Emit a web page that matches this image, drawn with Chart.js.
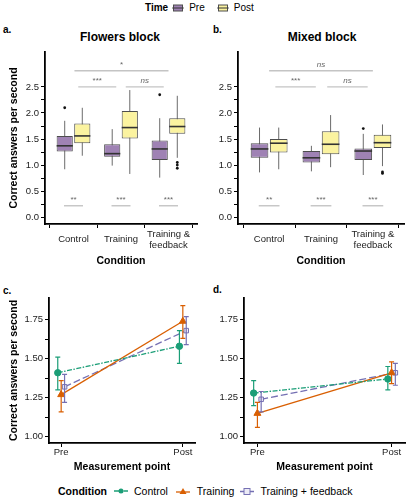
<!DOCTYPE html>
<html>
<head>
<meta charset="utf-8">
<script src="https://cdn.jsdelivr.net/npm/chart.js@4.4.0/dist/chart.umd.min.js"></script>
<style>
body{margin:0;background:#fff;font-family:"Liberation Sans",Arial,sans-serif;}
#wrap{position:relative;width:410px;height:500px;overflow:hidden;}
canvas{position:absolute;}
.t{position:absolute;white-space:nowrap;color:#000;line-height:12px;}
.b{font-weight:bold;}
.lg{position:absolute;display:flex;align-items:center;white-space:nowrap;font-size:10.5px;line-height:12px;}
.lg svg{margin:0 5px 0 4px;}
</style>
</head>
<body>
<div id="wrap">
  <div class="lg" style="left:145px;top:2px;font-size:10px">
    <b>Time</b>
    <svg width="12" height="8"><line x1="0" y1="4" x2="12" y2="4" stroke="#666"/><rect x="1.5" y="1" width="9" height="6" fill="#9f82b4" stroke="#4d4d4d"/><line x1="1.5" y1="4" x2="10.5" y2="4" stroke="#333"/></svg>
    <span>Pre</span>
    <svg width="12" height="8" style="margin-left:12px"><line x1="0" y1="4" x2="12" y2="4" stroke="#666"/><rect x="1.5" y="1" width="9" height="6" fill="#fbf3a0" stroke="#4d4d4d"/><line x1="1.5" y1="4" x2="10.5" y2="4" stroke="#333"/></svg>
    <span>Post</span>
  </div>

  <div class="t b" style="left:3px;top:24px;font-size:10px">a.</div>
  <div class="t b" style="left:213px;top:24px;font-size:10px">b.</div>
  <div class="t b" style="left:120px;top:31px;font-size:12px;transform:translateX(-50%)">Flowers block</div>
  <div class="t b" style="left:322px;top:31px;font-size:12px;transform:translateX(-50%)">Mixed block</div>
  <div class="t b" style="left:3px;top:285px;font-size:10px">c.</div>
  <div class="t b" style="left:213px;top:284px;font-size:10px">d.</div>

  <canvas id="ca" style="left:0;top:44px" width="205" height="232"></canvas>
  <canvas id="cb" style="left:205px;top:44px" width="205" height="232"></canvas>
  <canvas id="cc" style="left:0;top:282px" width="205" height="196"></canvas>
  <canvas id="cd" style="left:205px;top:282px" width="205" height="196"></canvas>

  <div class="lg" style="left:58px;top:485px">
    <b>Condition</b>
    <svg width="14" height="8" style="margin-left:7px;margin-right:6px"><line x1="0" y1="4" x2="14" y2="4" stroke="#1b9e77" stroke-width="1.3" stroke-dasharray="5 1.5 1.5 1.5"/><circle cx="7" cy="4" r="2.5" fill="#1b9e77"/></svg>
    <span>Control</span>
    <svg width="14" height="9" style="margin-left:8px;margin-right:7px"><line x1="0" y1="5" x2="14" y2="5" stroke="#d95f02" stroke-width="1.3"/><polygon points="7,1 10.5,7 3.5,7" fill="#d95f02"/></svg>
    <span>Training</span>
    <svg width="14" height="9" style="margin-left:6px;margin-right:6px"><line x1="0" y1="4.5" x2="14" y2="4.5" stroke="#7570b3" stroke-width="1.3" stroke-dasharray="6 2"/><rect x="4" y="1.5" width="6" height="6" fill="#ecebf6" stroke="#7570b3"/></svg>
    <span>Training + feedback</span>
  </div>
</div>
<script>
// categories
const conditions = [['Control'], ['Training'], ['Training &', 'feedback']];
const measurePoints = ['Pre', 'Post'];

// box stats per condition: [lower whisker, Q1, median, Q3, upper whisker]
const flowersPre  = [[0.92, 1.26, 1.37, 1.56, 1.85], [0.99, 1.16, 1.22, 1.40, 1.69], [0.76, 1.10, 1.31, 1.47, 1.90]];
const flowersPost = [[1.18, 1.42, 1.56, 1.80, 2.10], [0.83, 1.51, 1.72, 2.04, 2.44], [1.14, 1.60, 1.74, 1.90, 2.33]];
const flowersPreOut  = [[2.10], [], [2.35]];
const flowersPostOut = [[], [], [1.05, 1.00, 0.94]];

const mixedPre  = [[0.86, 1.14, 1.31, 1.42, 1.72], [0.88, 1.05, 1.14, 1.27, 1.37], [0.81, 1.10, 1.27, 1.32, 1.60]];
const mixedPost = [[0.92, 1.24, 1.42, 1.50, 1.72], [0.96, 1.21, 1.40, 1.65, 1.96], [0.98, 1.33, 1.43, 1.58, 1.78]];
const mixedPreOut  = [[], [], [1.70]];
const mixedPostOut = [[], [], [0.87, 0.84]];

// significance brackets: [from, to, height, label]
const flowersSig = [[1.02, 3.0, 2.81, '*'], [1.1, 1.9, 2.5, '***'], [2.1, 2.9, 2.5, 'ns'],
  [0.8, 1.2, 0.22, '**'], [1.8, 2.2, 0.22, '***'], [2.8, 3.2, 0.22, '***']];
const mixedSig = [[1.0, 3.0, 2.81, 'ns'], [1.12, 1.9, 2.5, '***'], [2.12, 2.9, 2.5, 'ns'],
  [0.8, 1.2, 0.22, '**'], [1.8, 2.2, 0.22, '***'], [2.8, 3.2, 0.22, '***']];

// means and error bars, Pre / Post
const flowersControl = [1.41, 1.58], flowersControlLo = [1.30, 1.47], flowersControlHi = [1.51, 1.68];
const flowersTraining = [1.27, 1.74], flowersTrainingLo = [1.16, 1.63], flowersTrainingHi = [1.36, 1.84];
const flowersFeedback = [1.32, 1.68], flowersFeedbackLo = [1.22, 1.59], flowersFeedbackHi = [1.40, 1.77];

const mixedControl = [1.28, 1.37], mixedControlLo = [1.20, 1.30], mixedControlHi = [1.36, 1.45];
const mixedTraining = [1.15, 1.41], mixedTrainingLo = [1.06, 1.34], mixedTrainingHi = [1.22, 1.48];
const mixedFeedback = [1.24, 1.41], mixedFeedbackLo = [1.16, 1.33], mixedFeedbackHi = [1.29, 1.47];

const condNames = ['Control', 'Training', 'Training + feedback'];
const condColors = ['#1b9e77', '#d95f02', '#7570b3'];
const condDash = [[5, 1.5, 1.5, 1.5], [], [7, 3]];
const condPoint = ['circle', 'triangle', 'rect'];
const dodge = [-0.028, 0, 0.028];

const preFill = '#9f82b4', postFill = '#fbf3a0';
const FONT = '"Liberation Sans", Arial, sans-serif';
Chart.defaults.font.family = FONT;

function axisBase() {
  return {
    grid: {drawOnChartArea: false, tickLength: 4, color: '#000', tickColor: '#000', tickWidth: 1},
    border: {display: true, color: '#000', width: 1.8}
  };
}

function boxExtras(stats, outs, sig) {
  return {
    id: 'boxExtras',
    beforeDatasetsDraw(chart) {
      const {ctx} = chart, y = chart.scales.y;
      ctx.save();
      ctx.strokeStyle = '#6b6b6b';
      ctx.lineWidth = 1;
      stats.forEach((ser, d) => {
        const meta = chart.getDatasetMeta(d);
        ser.forEach((s, i) => {
          const x = meta.data[i].x;
          ctx.beginPath();
          ctx.moveTo(x, y.getPixelForValue(s[0]));
          ctx.lineTo(x, y.getPixelForValue(s[4]));
          ctx.stroke();
        });
      });
      ctx.restore();
    },
    afterDatasetsDraw(chart) {
      const {ctx} = chart, y = chart.scales.y;
      ctx.save();
      stats.forEach((ser, d) => {
        const meta = chart.getDatasetMeta(d);
        ser.forEach((s, i) => {
          const bar = meta.data[i];
          const w = bar.width / 2;
          const my = y.getPixelForValue(s[2]);
          ctx.strokeStyle = '#333';
          ctx.lineWidth = 1.6;
          ctx.beginPath();
          ctx.moveTo(bar.x - w, my);
          ctx.lineTo(bar.x + w, my);
          ctx.stroke();
          ctx.fillStyle = '#111';
          outs[d][i].forEach(v => {
            ctx.beginPath();
            ctx.arc(bar.x, y.getPixelForValue(v), 1.4, 0, Math.PI * 2);
            ctx.fill();
          });
        });
      });
      ctx.restore();
    },
    afterDraw(chart) {
      const {ctx} = chart, x = chart.scales.x, y = chart.scales.y;
      ctx.save();
      sig.forEach(([a, b, h, lab]) => {
        const py = y.getPixelForValue(h);
        ctx.strokeStyle = '#c4c4c4';
        ctx.lineWidth = 1.4;
        ctx.beginPath();
        ctx.moveTo(x.getPixelForValue(a), py);
        ctx.lineTo(x.getPixelForValue(b), py);
        ctx.stroke();
        ctx.fillStyle = '#666';
        ctx.font = (lab === 'ns' ? 'italic ' : '') + '8px ' + FONT;
        ctx.textAlign = 'center';
        ctx.textBaseline = 'bottom';
        ctx.fillText(lab, x.getPixelForValue((a + b) / 2), py - 2);
      });
      ctx.restore();
    }
  };
}

function boxChart(id, pre, post, preOut, postOut, sig, yWidth, showTitle, padRight) {
  const yTicks = [];
  for (let v = 0; v <= 2.5001; v += 0.25) yTicks.push(v);
  new Chart(document.getElementById(id), {
    type: 'bar',
    data: {
      datasets: [
        {label: 'Pre', data: pre.map((s, i) => ({x: i + 1, y: [s[1], s[3]]})),
          backgroundColor: preFill, borderColor: '#4d4d4d', borderWidth: 1, borderSkipped: false},
        {label: 'Post', data: post.map((s, i) => ({x: i + 1, y: [s[1], s[3]]})),
          backgroundColor: postFill, borderColor: '#4d4d4d', borderWidth: 1, borderSkipped: false}
      ]
    },
    options: {
      responsive: false,
      animation: false,
      categoryPercentage: 0.74,
      barPercentage: 0.92,
      layout: {padding: {top: 8, right: padRight, left: 0, bottom: 0}},
      plugins: {legend: {display: false}, tooltip: {enabled: false}},
      scales: {
        x: Object.assign(axisBase(), {
          type: 'linear', min: 0.4, max: 3.6, offset: false,
          afterBuildTicks: a => { a.ticks = [1, 2, 3].map(v => ({value: v})); },
          afterFit: a => { a.height = 52; },
          ticks: {callback: v => conditions[Math.round(v) - 1], autoSkip: false, maxRotation: 0,
            crossAlign: 'center', padding: 6, color: '#222', font: {size: 9.5}},
          title: {display: true, text: 'Condition', color: '#000', font: {size: 10.5, weight: 'bold'},
            padding: {top: 0, bottom: 9}}
        }),
        y: Object.assign(axisBase(), {
          min: -0.13, max: 3.17,
          afterBuildTicks: a => { a.ticks = yTicks.map(v => ({value: v})); },
          afterFit: a => { a.width = yWidth; },
          ticks: {callback: v => (Math.abs(v * 2 - Math.round(v * 2)) < 1e-6 ? v.toFixed(1) : ''),
            padding: 2, color: '#222', font: {size: 9.5}},
          title: {display: showTitle, text: 'Correct answers per second', color: '#000',
            font: {size: 10.5, weight: 'bold'}, padding: {top: 8, bottom: 0}}
        })
      }
    },
    plugins: [boxExtras([pre, post], [preOut, postOut], sig)]
  });
}

function errorBars(lo, hi) {
  return {
    id: 'errorBars',
    afterDatasetsDraw(chart) {
      const {ctx} = chart, y = chart.scales.y;
      ctx.save();
      ctx.lineWidth = 1.2;
      chart.data.datasets.forEach((ds, k) => {
        const meta = chart.getDatasetMeta(k);
        ctx.strokeStyle = condColors[k];
        meta.data.forEach((pt, j) => {
          const y1 = y.getPixelForValue(lo[k][j]), y2 = y.getPixelForValue(hi[k][j]);
          ctx.beginPath();
          ctx.moveTo(pt.x, y1); ctx.lineTo(pt.x, y2);
          ctx.moveTo(pt.x - 2.5, y1); ctx.lineTo(pt.x + 2.5, y1);
          ctx.moveTo(pt.x - 2.5, y2); ctx.lineTo(pt.x + 2.5, y2);
          ctx.stroke();
        });
      });
      ctx.restore();
    }
  };
}

function lineChart(id, means, lo, hi, yWidth, showTitle, padRight) {
  const yTicks = [];
  for (let v = 1; v <= 1.7501; v += 0.125) yTicks.push(v);
  new Chart(document.getElementById(id), {
    type: 'line',
    data: {
      datasets: means.map((m, k) => ({
        label: condNames[k],
        data: m.map((v, j) => ({x: j + 1 + dodge[k], y: v})),
        borderColor: condColors[k],
        backgroundColor: k === 2 ? '#ecebf6' : condColors[k],
        borderDash: condDash[k],
        borderWidth: 1.3,
        pointStyle: condPoint[k],
        pointRadius: k === 1 ? 4 : 3.2,
        pointBorderWidth: 1,
        pointBorderColor: condColors[k],
        fill: false,
        tension: 0
      }))
    },
    options: {
      responsive: false,
      animation: false,
      layout: {padding: {top: 16, right: padRight, left: 0, bottom: 0}},
      plugins: {legend: {display: false}, tooltip: {enabled: false}},
      scales: {
        x: Object.assign(axisBase(), {
          type: 'linear', min: 0.9, max: 2.1,
          afterBuildTicks: a => { a.ticks = [1, 2].map(v => ({value: v})); },
          afterFit: a => { a.height = 35; },
          ticks: {callback: v => measurePoints[Math.round(v) - 1], autoSkip: false, maxRotation: 0,
            padding: 0, color: '#222', font: {size: 9.5}},
          title: {display: true, text: 'Measurement point', color: '#000', font: {size: 10.5, weight: 'bold'},
            padding: {top: 0, bottom: 5}}
        }),
        y: Object.assign(axisBase(), {
          min: 0.96, max: 1.889,
          afterBuildTicks: a => { a.ticks = yTicks.map(v => ({value: v})); },
          afterFit: a => { a.width = yWidth; },
          ticks: {callback: v => (Math.abs(v * 4 - Math.round(v * 4)) < 1e-6 ? v.toFixed(2) : ''),
            padding: 2, color: '#222', font: {size: 9.5}},
          title: {display: showTitle, text: 'Correct answers per second', color: '#000',
            font: {size: 10.5, weight: 'bold'}, padding: {top: 8, bottom: 0}}
        })
      }
    },
    plugins: [errorBars(lo, hi)]
  });
}

boxChart('ca', flowersPre, flowersPost, flowersPreOut, flowersPostOut, flowersSig, 45, true, 8);
boxChart('cb', mixedPre, mixedPost, mixedPreOut, mixedPostOut, mixedSig, 33, false, 6);
lineChart('cc', [flowersControl, flowersTraining, flowersFeedback],
  [flowersControlLo, flowersTrainingLo, flowersFeedbackLo],
  [flowersControlHi, flowersTrainingHi, flowersFeedbackHi], 49, true, 10);
lineChart('cd', [mixedControl, mixedTraining, mixedFeedback],
  [mixedControlLo, mixedTrainingLo, mixedFeedbackLo],
  [mixedControlHi, mixedTrainingHi, mixedFeedbackHi], 39, false, 5);
</script>
</body>
</html>
